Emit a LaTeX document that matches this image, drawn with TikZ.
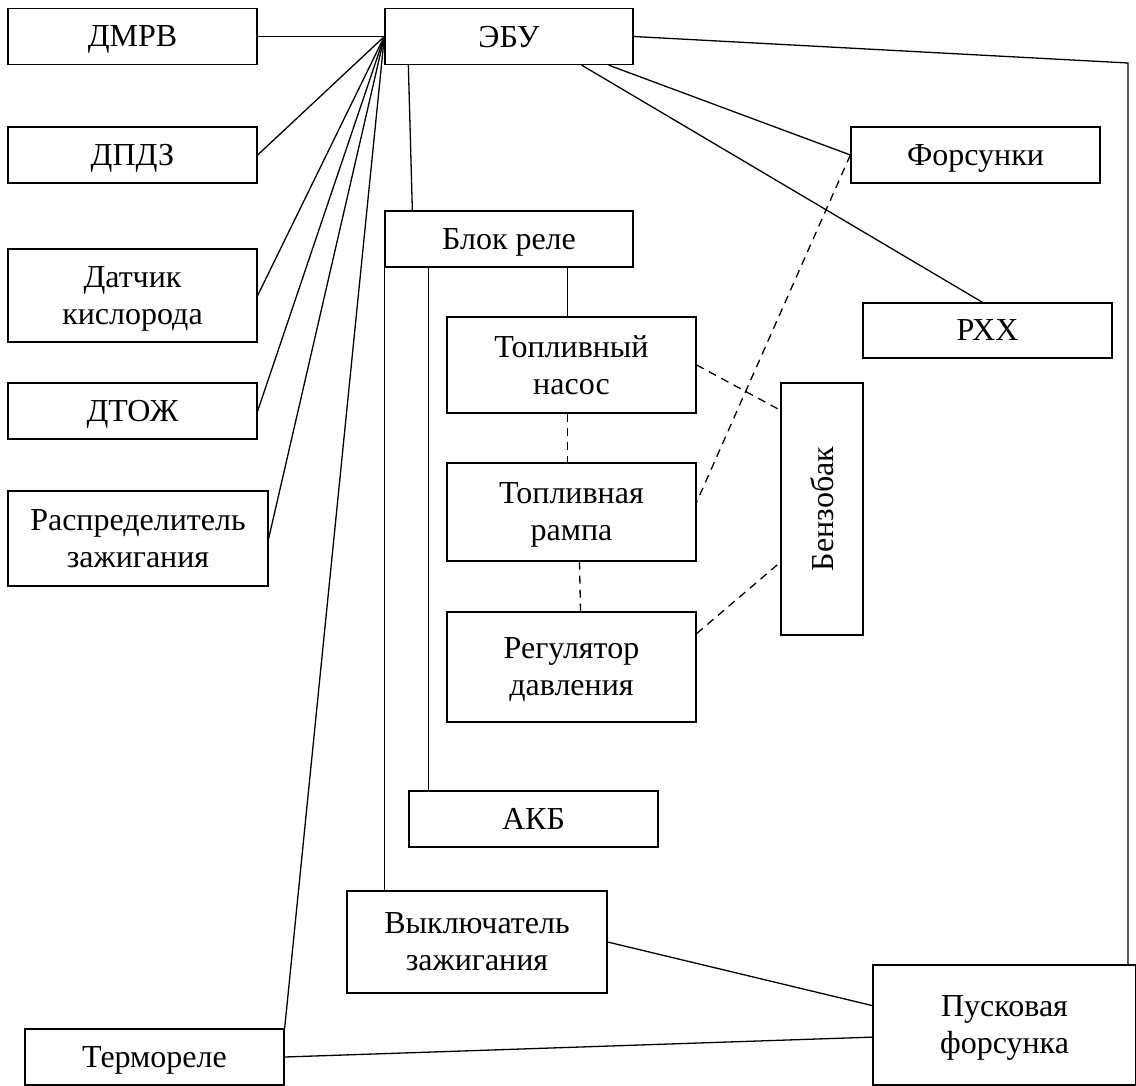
\documentclass[tikz,border=0pt]{standalone}
\usepackage{fontspec}
\setmainfont{Liberation Serif}
\usetikzlibrary{calc, positioning}

\tikzset{
  blk/.style={draw, line width=1.3pt, inner sep=0pt, align=center,
    text depth=0pt, font=\fontsize{32}{37}\selectfont},
  wire/.style={line width=1.3pt},
  pipe/.style={line width=1.3pt, dash pattern=on 8pt off 6pt},
}

\begin{document}
\begin{tikzpicture}[x=1pt, y=-1pt]
\useasboundingbox (0,0) rectangle (1136,1086);
\def\bw{249pt}
\def\bh{56pt}

\node[blk, minimum width=\bw, minimum height=\bh] (dmrv) at (132.5,36.5) {ДМРВ};
\node[blk, minimum width=248pt, minimum height=\bh] (ebu) at (509,36.5) {ЭБУ};
\node[blk, minimum width=\bw, minimum height=\bh] (dpdz) at (132.5,155) {ДПДЗ};
\node[blk, minimum width=\bw, minimum height=93pt] (datch) at (132.5,295.5) {Датчик\\кислорода};
\node[blk, minimum width=\bw, minimum height=\bh] (dtozh) at (132.5,411) {ДТОЖ};
\node[blk, minimum width=260pt, minimum height=95pt] (rasp) at (138,538.5) {Распределитель\\зажигания};
\node[blk, minimum width=259pt, minimum height=\bh] (termo) at (154.5,1057) {Термореле};

\node[blk, minimum width=248pt, minimum height=\bh] (bloc) at (509,239) {Блок реле};
\node[blk, minimum width=\bw, minimum height=96pt] (nasos) at (571.5,365) {Топливный\\насос};
\node[blk, minimum width=\bw, minimum height=98pt] (ramp) at (571.5,512) {Топливная\\рампа};
\node[blk, minimum width=\bw, minimum height=110pt] (reg) at (571.5,667) {Регулятор\\давления};
\node[blk, minimum width=82pt, minimum height=252pt] (benz) at (822,509) {\rotatebox{90}{Бензобак}};
\node[blk, minimum width=\bw, minimum height=\bh] (akb) at (533.5,819) {АКБ};
\node[blk, minimum width=260pt, minimum height=102pt] (vykl) at (477,942) {Выключатель\\зажигания};

\node[blk, minimum width=\bw, minimum height=\bh] (fors) at (975.5,155) {Форсунки};
\node[blk, minimum width=\bw, minimum height=55pt] (rxx) at (987.5,330.5) {РХХ};
\node[blk, minimum width=263pt, minimum height=120pt] (pusk) at (1004.5,1025) {Пусковая\\форсунка};

\draw[wire] (dmrv.east) -- (ebu.west);
\foreach \s in {dpdz, datch, dtozh, rasp}
  \draw[wire] (\s.east) -- (ebu.west);
\draw[wire] (termo.north east) -- (ebu.west);

\coordinate (ecorner) at (1128,63);
\draw[wire] (ebu.east) -- (ecorner) -- (ecorner |- pusk.north);
\draw[wire] ($(ebu.south west)+(24,0)$) -- ($(bloc.north west)+(28,0)$);
\draw[wire] ($(ebu.south east)+(-25,0)$) -- (fors.west);
\draw[wire] ($(ebu.south east)+(-52,0)$) -- ($(rxx.north)+(-5,0)$);

\coordinate (akbtap) at ($(bloc.south west)+(44,0)$);
\draw[wire] (bloc.south west) -- (bloc.south west |- vykl.north);
\draw[wire] (akbtap) -- (akbtap |- akb.north);
\draw[wire] ([xshift=-4pt]nasos.north |- bloc.south) -- ([xshift=-4pt]nasos.north);

\draw[wire] (vykl.east) -- ($(pusk.north west)!0.34!(pusk.south west)$);
\draw[wire] (termo.east) -- ($(pusk.north west)!0.6!(pusk.south west)$);

\draw[pipe] (fors.west) -- ($(ramp.north east)!0.4!(ramp.south east)$);
\draw[pipe] (nasos.east) -- ($(benz.north west)!0.11!(benz.south west)$);
\draw[pipe] ([xshift=-4pt]nasos.south) -- ([xshift=-4pt]ramp.north);
\draw[pipe] ([xshift=8pt]ramp.south) -- ([xshift=9pt]reg.north);
\draw[pipe] ($(reg.north east)!0.2!(reg.south east)$) -- ($(benz.north west)!0.71!(benz.south west)$);
\end{tikzpicture}
\end{document}
